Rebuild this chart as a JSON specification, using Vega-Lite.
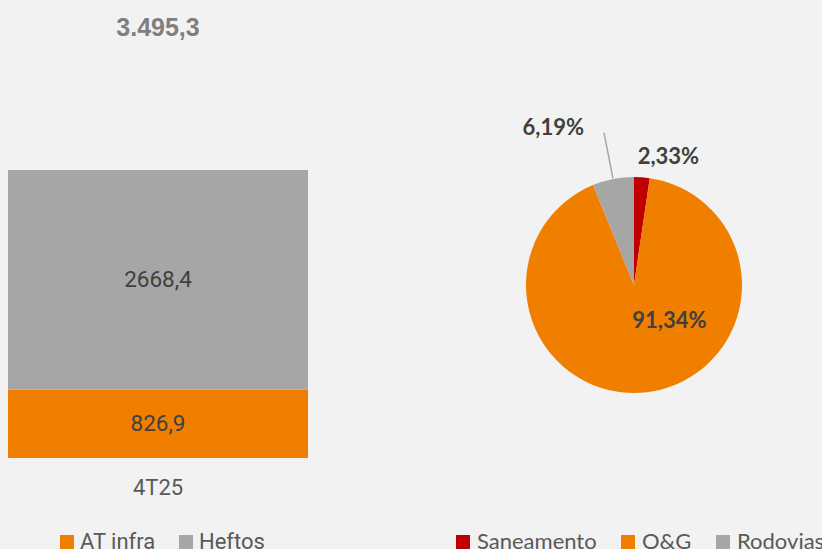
{
  "$schema": "https://vega.github.io/schema/vega-lite/v6.json",
  "background": "#F2F2F2",
  "padding": {"left": 8, "top": 16, "right": 0, "bottom": 0},
  "bounds": "flush",
  "spacing": 176,
  "config": {
    "view": {"stroke": null},
    "locale": {"number": {"decimal": ",", "thousands": ".", "grouping": [3], "currency": ["R$", ""]}}
  },
  "resolve": {"scale": {"color": "independent"}, "legend": {"color": "independent"}},
  "hconcat": [
    {
      "width": 300,
      "height": 288,
      "title": {"text": "3.495,3", "font": "Liberation Sans", "fontSize": 25, "fontWeight": "bold", "color": "#7F7F7F", "anchor": "middle", "baseline": "alphabetic", "offset": 109},
      "data": {"values": [
        {"periodo": "4T25", "segmento": "AT infra", "valor": 826.9, "ordem": 1},
        {"periodo": "4T25", "segmento": "Heftos", "valor": 2668.4, "ordem": 2}
      ]},
      "layer": [
        {
          "mark": {"type": "bar"},
          "encoding": {
            "x": {"field": "periodo", "type": "nominal", "scale": {"paddingInner": 0, "paddingOuter": 0},
              "axis": {"title": null, "domain": false, "ticks": false, "labelAngle": 0, "labelFont": "Roboto", "labelFontSize": 22, "labelColor": "#595959", "labelPadding": 19}},
            "y": {"field": "valor", "type": "quantitative", "stack": "zero", "scale": {"domain": [0, 3495.3], "nice": false}, "axis": null},
            "order": {"field": "ordem", "type": "quantitative", "sort": "ascending"},
            "color": {"field": "segmento", "type": "nominal",
              "scale": {"domain": ["AT infra", "Heftos"], "range": ["#F07F00", "#A6A6A6"]},
              "legend": {"orient": "none", "legendX": 48, "legendY": 361, "direction": "horizontal", "title": null, "symbolType": "square", "symbolSize": 196, "symbolStrokeWidth": 0, "labelFont": "Roboto", "labelFontSize": 22, "labelColor": "#595959", "columnPadding": 19, "labelOffset": 2}}
          }
        },
        {
          "mark": {"type": "text", "font": "Roboto", "fontSize": 22.5, "color": "#404040", "baseline": "middle"},
          "encoding": {
            "x": {"field": "periodo", "type": "nominal"},
            "y": {"field": "valor", "type": "quantitative", "stack": "zero", "bandPosition": 0.5},
            "order": {"field": "ordem", "type": "quantitative", "sort": "ascending"},
            "detail": {"field": "segmento"},
            "text": {"field": "valor", "type": "quantitative", "format": ".1f"}
          }
        }
      ]
    },
    {
      "width": 300,
      "height": 230,
      "data": {"values": [
        {"segmento": "Saneamento", "participacao": 0.0233, "ordem": 1},
        {"segmento": "O&G", "participacao": 0.9134, "ordem": 2},
        {"segmento": "Rodovias", "participacao": 0.0619, "ordem": 3}
      ]},
      "encoding": {
        "theta": {"field": "participacao", "type": "quantitative", "stack": true},
        "order": {"field": "ordem", "type": "quantitative"}
      },
      "layer": [
        {
          "mark": {"type": "arc", "outerRadius": 108},
          "encoding": {
            "color": {"field": "segmento", "type": "nominal",
              "scale": {"domain": ["Saneamento", "O&G", "Rodovias"], "range": ["#C00000", "#F07F00", "#A6A6A6"]},
              "legend": {"orient": "none", "legendX": -32, "legendY": 361, "direction": "horizontal", "title": null, "symbolType": "square", "symbolSize": 196, "symbolStrokeWidth": 0, "labelFont": "Lato", "labelFontSize": 22, "labelColor": "#595959", "columnPadding": 20, "labelOffset": 3}}
          }
        },
        {
          "mark": {"type": "arc", "innerRadius": 109, "outerRadius": 155, "padAngle": 1, "fill": "transparent", "stroke": "#A6A6A6", "strokeWidth": 1.5},
          "encoding": {
            "strokeOpacity": {"condition": {"test": "datum.segmento === 'Rodovias'", "value": 1}, "value": 0}
          }
        },
        {
          "mark": {"type": "text", "radius": 128, "dx": 25, "font": "Lato", "fontWeight": "bold", "fontSize": 22, "color": "#404040", "baseline": "middle", "align": "center"},
          "encoding": {
            "text": {"condition": {"test": "datum.segmento === 'Saneamento'", "field": "participacao", "type": "quantitative", "format": ".2%"}, "value": ""}
          }
        },
        {
          "mark": {"type": "text", "radius": 36, "dx": 31, "font": "Lato", "fontWeight": "bold", "fontSize": 22, "color": "#404040", "baseline": "middle", "align": "center"},
          "encoding": {
            "text": {"condition": {"test": "datum.segmento === 'O&G'", "field": "participacao", "type": "quantitative", "format": ".2%"}, "value": ""}
          }
        },
        {
          "mark": {"type": "text", "radius": 155, "dx": -20, "dy": -5, "font": "Lato", "fontWeight": "bold", "fontSize": 22, "color": "#404040", "baseline": "middle", "align": "right"},
          "encoding": {
            "text": {"condition": {"test": "datum.segmento === 'Rodovias'", "field": "participacao", "type": "quantitative", "format": ".2%"}, "value": ""}
          }
        }
      ]
    }
  ]
}
